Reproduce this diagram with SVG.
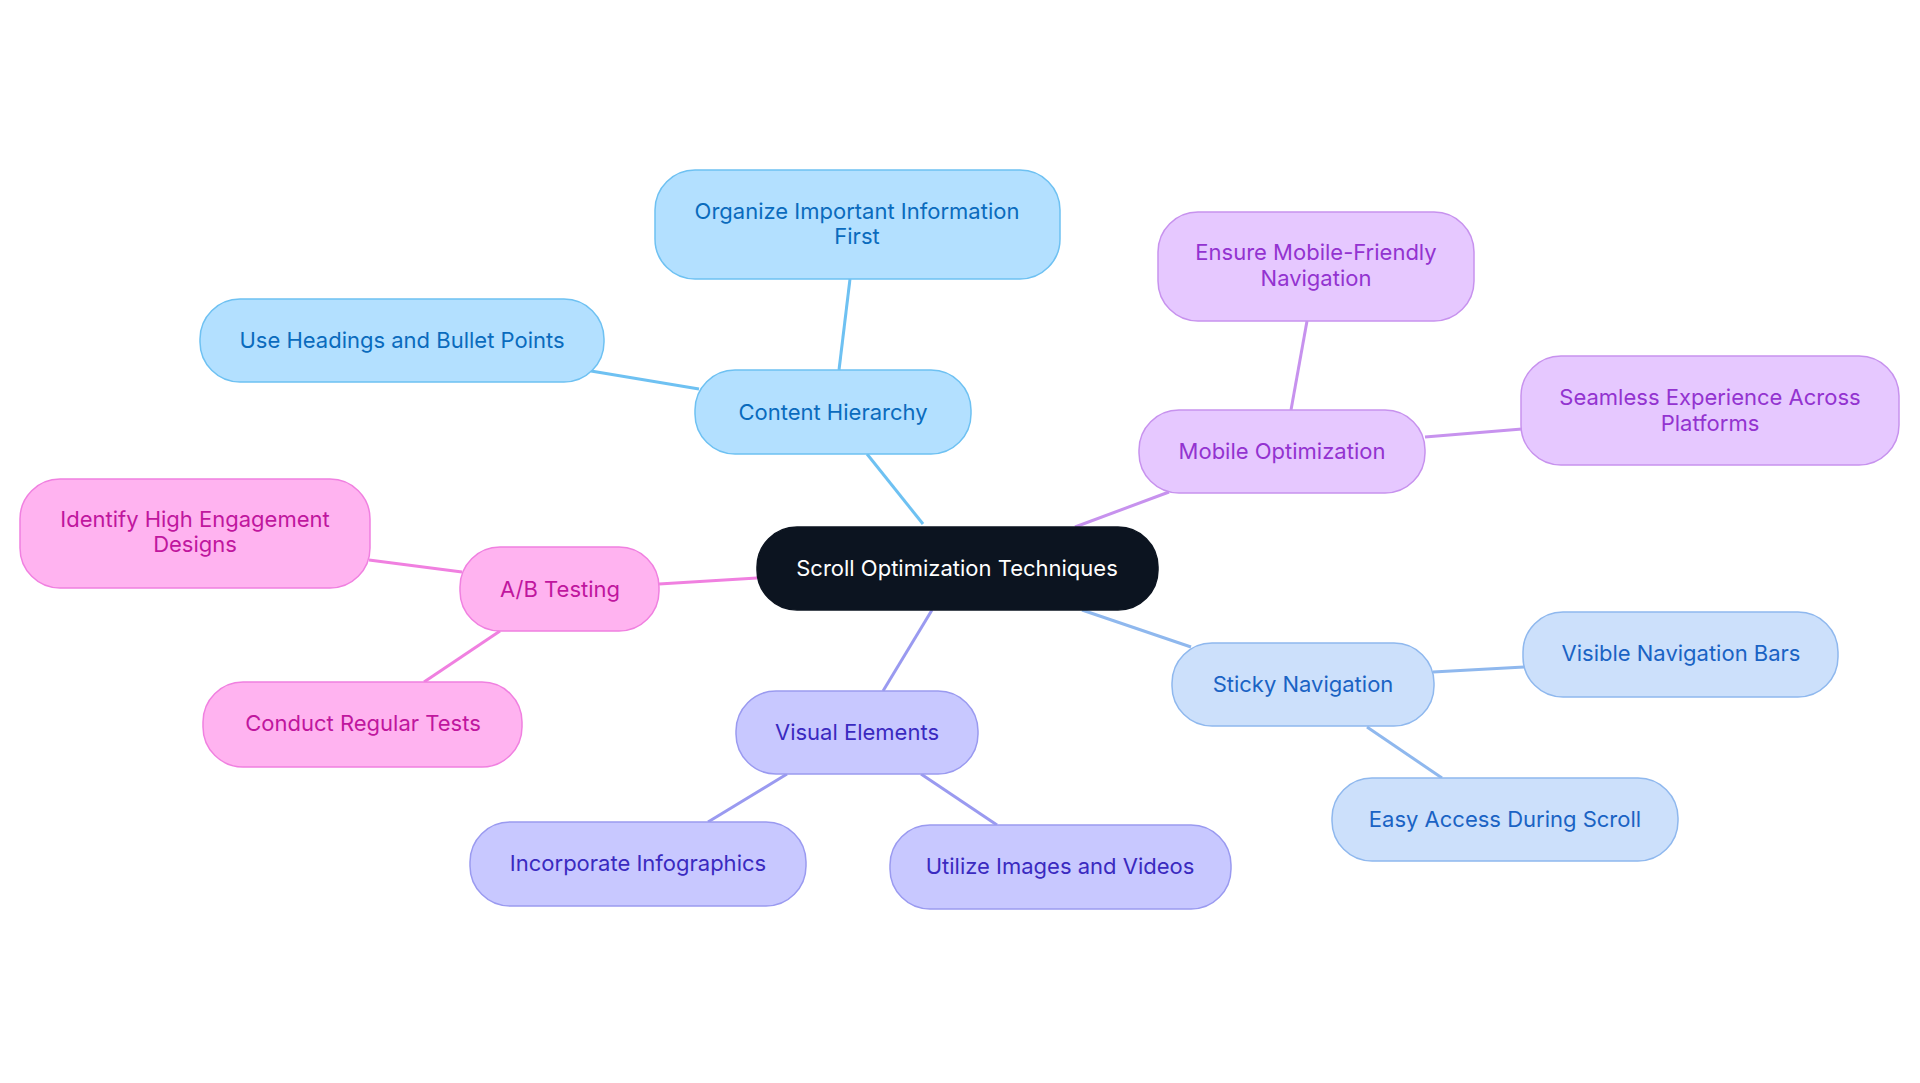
<svg xmlns="http://www.w3.org/2000/svg" width="1920" height="1083" viewBox="0 0 1920 1083">
<style>
text{font-family:Inter,"Noto Sans",sans-serif;font-size:22px;text-anchor:middle;dominant-baseline:central}
rect{stroke-width:1.5}
.c rect{fill:#0c1420;stroke:#0c1420}.c text{fill:#fff}
.b rect{fill:#b3e0ff;stroke:#6ec1f2}.b text{fill:#0a6bbd}
.p rect{fill:#e6c8ff;stroke:#c792ee}.p text{fill:#9333d0}
.k rect{fill:#ffb3f0;stroke:#f080e0}.k text{fill:#c0169e}
.i rect{fill:#c8c8ff;stroke:#9a9af0}.i text{fill:#3a2ac0}
.l rect{fill:#cce0fb;stroke:#8fb8ee}.l text{fill:#1a63c4}
#edges line{stroke-width:3}
</style>
<rect width="1920" height="1083" fill="#fff"/>
<g id="edges">
<line x1="923" y1="524" x2="867" y2="454" stroke="#6ec1f2"/>
<line x1="839" y1="370" x2="850" y2="279" stroke="#6ec1f2"/>
<line x1="699" y1="389" x2="591" y2="371" stroke="#6ec1f2"/>
<line x1="1075" y1="527" x2="1169" y2="492" stroke="#c792ee"/>
<line x1="1291" y1="410" x2="1307" y2="321" stroke="#c792ee"/>
<line x1="1425" y1="437" x2="1522" y2="429" stroke="#c792ee"/>
<line x1="757" y1="578" x2="659" y2="584" stroke="#f080e0"/>
<line x1="462" y1="572" x2="369" y2="560" stroke="#f080e0"/>
<line x1="500" y1="631" x2="424" y2="682" stroke="#f080e0"/>
<line x1="932" y1="610" x2="883" y2="691" stroke="#9a9af0"/>
<line x1="787" y1="774" x2="708" y2="822" stroke="#9a9af0"/>
<line x1="921" y1="774" x2="997" y2="825" stroke="#9a9af0"/>
<line x1="1082" y1="610" x2="1191" y2="647" stroke="#8fb8ee"/>
<line x1="1433" y1="672" x2="1524" y2="667" stroke="#8fb8ee"/>
<line x1="1367" y1="727" x2="1442" y2="778" stroke="#8fb8ee"/>
</g>
<g id="center" class="c"><rect x="757" y="527" width="401" height="83" rx="40"/><text x="957" y="568">Scroll Optimization Techniques</text></g>
<g id="content" class="b"><rect x="695" y="370" width="276" height="84" rx="40"/><text x="833" y="412">Content Hierarchy</text></g>
<g id="organize" class="b"><rect x="655" y="170" width="405" height="109" rx="40"/><text x="857" y="211">Organize Important Information</text><text x="857" y="236">First</text></g>
<g id="headings" class="b"><rect x="200" y="299" width="404" height="83" rx="40"/><text x="402" y="340">Use Headings and Bullet Points</text></g>
<g id="mobile" class="p"><rect x="1139" y="410" width="286" height="83" rx="40"/><text x="1282" y="451">Mobile Optimization</text></g>
<g id="ensure" class="p"><rect x="1158" y="212" width="316" height="109" rx="40"/><text x="1316" y="252">Ensure Mobile-Friendly</text><text x="1316" y="278">Navigation</text></g>
<g id="seamless" class="p"><rect x="1521" y="356" width="378" height="109" rx="40"/><text x="1710" y="397">Seamless Experience Across</text><text x="1710" y="423">Platforms</text></g>
<g id="ab" class="k"><rect x="460" y="547" width="199" height="84" rx="40"/><text x="560" y="589">A/B Testing</text></g>
<g id="identify" class="k"><rect x="20" y="479" width="350" height="109" rx="40"/><text x="195" y="519">Identify High Engagement</text><text x="195" y="544">Designs</text></g>
<g id="conduct" class="k"><rect x="203" y="682" width="319" height="85" rx="40"/><text x="363" y="723">Conduct Regular Tests</text></g>
<g id="visual" class="i"><rect x="736" y="691" width="242" height="83" rx="40"/><text x="857" y="732">Visual Elements</text></g>
<g id="infographics" class="i"><rect x="470" y="822" width="336" height="84" rx="40"/><text x="638" y="863">Incorporate Infographics</text></g>
<g id="images" class="i"><rect x="890" y="825" width="341" height="84" rx="40"/><text x="1060" y="866">Utilize Images and Videos</text></g>
<g id="sticky" class="l"><rect x="1172" y="643" width="262" height="83" rx="40"/><text x="1303" y="684">Sticky Navigation</text></g>
<g id="visible" class="l"><rect x="1523" y="612" width="315" height="85" rx="40"/><text x="1681" y="653">Visible Navigation Bars</text></g>
<g id="easy" class="l"><rect x="1332" y="778" width="346" height="83" rx="40"/><text x="1505" y="819">Easy Access During Scroll</text></g>
</svg>
